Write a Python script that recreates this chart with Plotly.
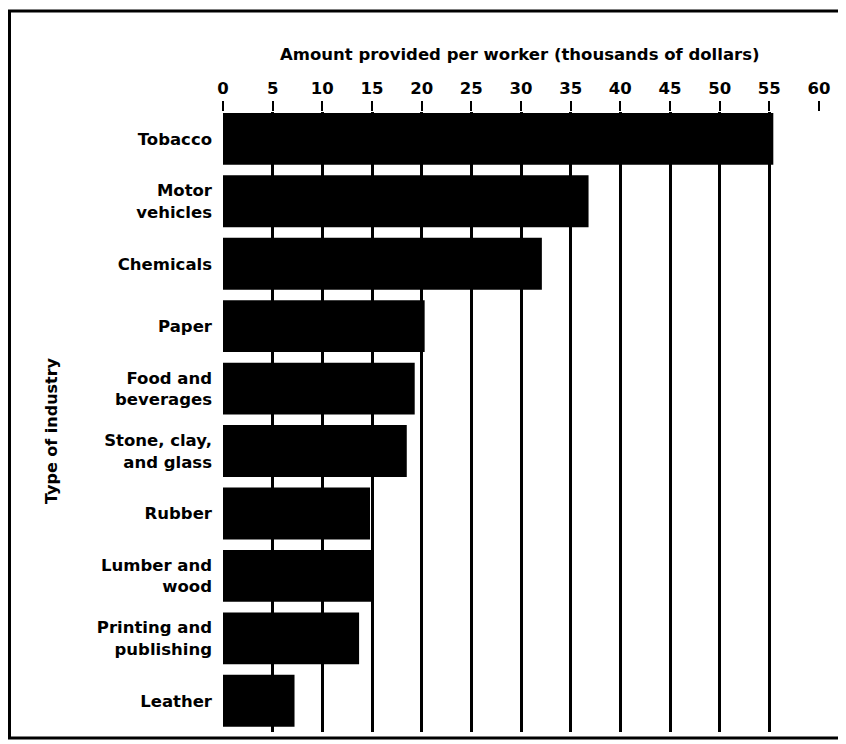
import plotly.graph_objects as go

industries = ["Tobacco", "Motor<br>vehicles", "Chemicals", "Paper", "Food and<br>beverages",
              "Stone, clay,<br>and glass", "Rubber", "Lumber and<br>wood",
              "Printing and<br>publishing", "Leather"]
amounts = [55.4, 36.8, 32.1, 20.3, 19.3, 18.5, 14.8, 15.0, 13.7, 7.2]
tick_vals = [0, 5, 10, 15, 20, 25, 30, 35, 40, 45, 50, 55, 60]

# page body has an 8px margin, so figure coords = page coords - 8
W, H = 838, 736
L, R, T, B = 215, 27, 104, 12
pw = W - L - R
ph = H - T - B

def px_x(x):  # figure pixel -> paper x
    return (x - L) / pw

def px_y(y):  # figure pixel (from top) -> paper y
    return (H - B - y) / ph

FONT = "DejaVu Sans, Liberation Sans, Arial, sans-serif"

fig = go.Figure(go.Bar(
    x=amounts, y=[f"<b>{c}</b>" for c in industries], orientation="h",
    marker=dict(color="black", line=dict(width=0)), width=0.83,
))

fig.update_layout(
    width=W, height=H,
    margin=dict(l=L, r=R, t=T, b=B),
    plot_bgcolor="white", paper_bgcolor="white",
    font=dict(family=FONT, size=16.5, color="black"),
    showlegend=False,
    xaxis=dict(
        side="top", range=[0, 60], tickvals=tick_vals,
        ticktext=[f"<b>{v}</b>" for v in tick_vals],
        showgrid=True, gridcolor="black", gridwidth=3,
        ticks="outside", ticklen=10, tickwidth=2, tickcolor="black",
        tickfont=dict(size=16.5),
        zeroline=False, showline=False,
    ),
    yaxis=dict(
        range=[9.5, -0.43], showgrid=False, ticks="", showline=False,
        tickfont=dict(size=16.5), ticklabelstandoff=10,
    ),
)

fig.add_annotation(
    text="<b>Amount provided per worker (thousands of dollars)</b>",
    xref="paper", yref="paper", x=px_x(512), y=px_y(46),
    xanchor="center", yanchor="middle", showarrow=False, font=dict(size=16.5),
)

fig.add_annotation(
    text="<b>Type of industry</b>", textangle=-90,
    xref="paper", yref="paper", x=px_x(43), y=px_y(422),
    xanchor="center", yanchor="middle",
    showarrow=False, font=dict(size=16),
)

# frame lines around the figure
frame = dict(color="black", width=3)
fig.add_shape(type="line", xref="paper", yref="paper",
              x0=px_x(1.5), x1=px_x(1.5), y0=px_y(3), y1=px_y(730), line=frame)
fig.add_shape(type="line", xref="paper", yref="paper",
              x0=px_x(0), x1=px_x(838), y0=px_y(3), y1=px_y(3), line=frame)
fig.add_shape(type="line", xref="paper", yref="paper",
              x0=px_x(0), x1=px_x(838), y0=px_y(730), y1=px_y(730), line=frame)

fig.write_html("out.html")
